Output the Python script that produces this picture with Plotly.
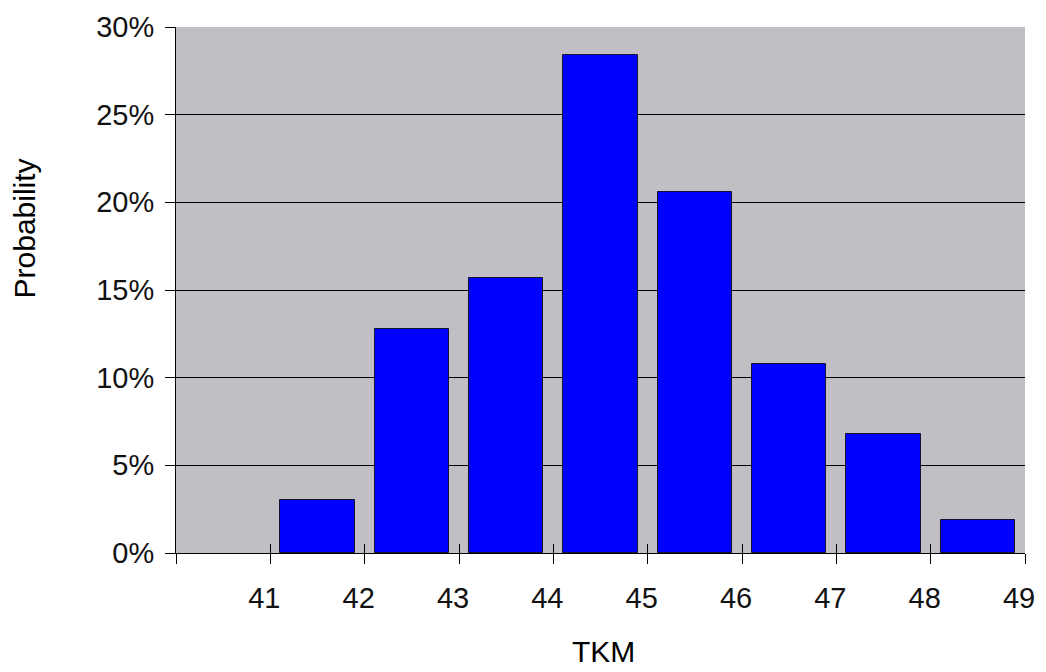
import plotly.graph_objects as go

# Histogram of TKM: lower edge of each 1-unit bin and its probability
bin_start = [41, 42, 43, 44, 45, 46, 47, 48]
probability = [0.030, 0.128, 0.157, 0.284, 0.206, 0.108, 0.068, 0.019]
x_ticks = [40, 41, 42, 43, 44, 45, 46, 47, 48, 49]
x_tick_text = ["", "41", "42", "43", "44", "45", "46", "47", "48", "49"]

tick_font = dict(family="Liberation Sans, Arial, sans-serif", size=29, color="#111111")
title_font = dict(family="Liberation Sans Narrow, Arial Narrow, Liberation Sans, sans-serif",
                  size=30, color="#000000")

fig = go.Figure()
fig.add_trace(go.Bar(
    x=bin_start,
    y=probability,
    width=0.79,
    offset=0.105,
    marker=dict(color="#0000FF", line=dict(color="#141432", width=1)),
    xaxis="x", yaxis="y",
    hovertemplate="%{x}: %{y:.1%}<extra></extra>",
))

fig.update_layout(
    width=1046, height=672,
    margin=dict(l=176, r=11, t=23, b=119),
    paper_bgcolor="#FFFFFF",
    plot_bgcolor="#C1BFC4",
    showlegend=False,
    bargap=0,
    xaxis=dict(
        range=[40, 49],
        tickvals=x_ticks, ticktext=x_tick_text,
        ticks="outside", ticklen=10, tickwidth=1, tickcolor="#000000",
        showline=True, linecolor="#000000", linewidth=1,
        showgrid=False, zeroline=False,
        tickfont=tick_font,
        ticklabelstandoff=9,
        ticklabelshift=-6,
        fixedrange=True,
    ),
    # second x axis only supplies the short tick marks above the baseline
    xaxis2=dict(
        range=[40, 49], overlaying="x", side="bottom", anchor="y",
        tickvals=x_ticks[1:-1], ticks="inside", ticklen=9, tickwidth=1,
        tickcolor="#000000", showticklabels=False, showgrid=False,
        zeroline=False, showline=False, fixedrange=True,
    ),
    yaxis=dict(
        range=[0, 0.30],
        dtick=0.05, tickformat=".0%",
        ticks="outside", ticklen=10, tickwidth=1, tickcolor="#000000",
        showline=True, linecolor="#000000", linewidth=1,
        showgrid=True, gridcolor="#000000", gridwidth=1,
        zeroline=False,
        tickfont=tick_font,
        ticklabelstandoff=5,
        fixedrange=True,
    ),
    annotations=[
        dict(text="Probability", textangle=-90, font=title_font,
             xref="paper", yref="paper", x=-0.179, y=0.617,
             xanchor="center", yanchor="middle", showarrow=False),
        dict(text="TKM", font=title_font,
             xref="paper", yref="paper", x=0.504, y=-0.188,
             xanchor="center", yanchor="middle", showarrow=False),
    ],
)

# dummy trace so the overlay axis is rendered
fig.add_trace(go.Scatter(x=[40], y=[0], xaxis="x2", yaxis="y",
                         mode="markers", marker=dict(opacity=0),
                         hoverinfo="skip"))

fig.write_html("out.html")
